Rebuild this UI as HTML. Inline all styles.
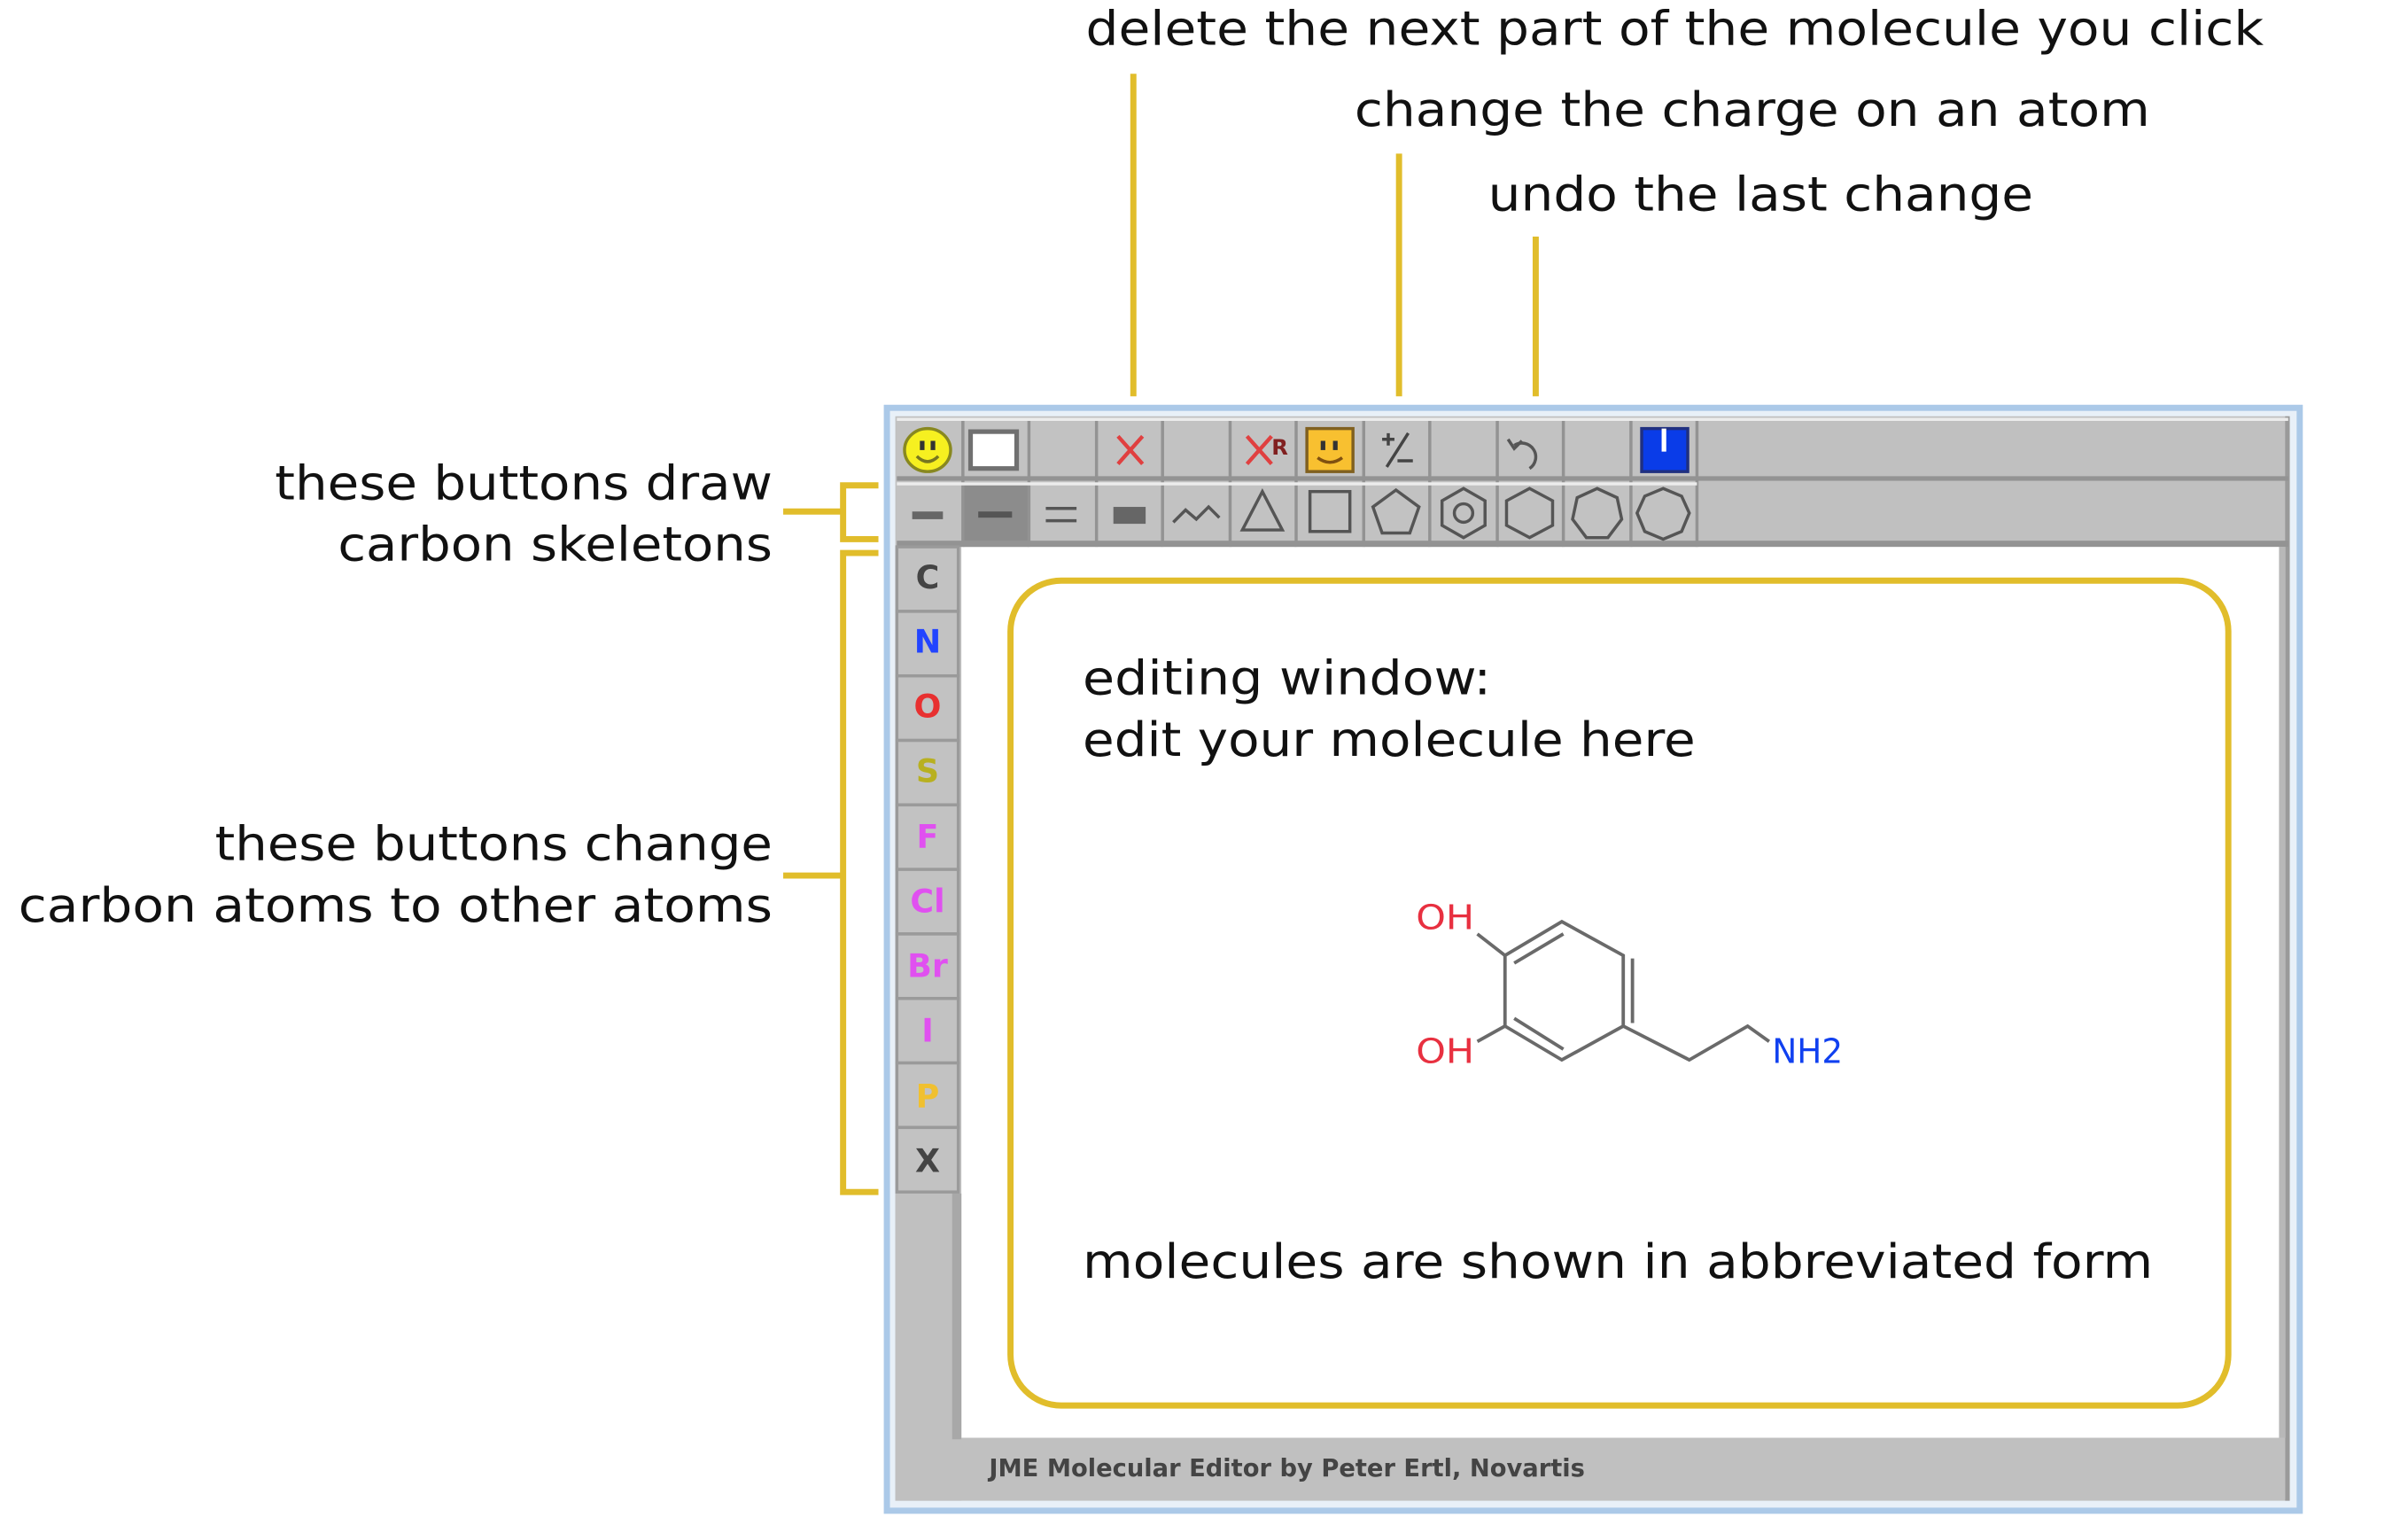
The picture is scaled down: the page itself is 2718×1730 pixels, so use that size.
<!DOCTYPE html>
<html><head><meta charset="utf-8"><style>
html,body{margin:0;padding:0;background:#fff;}
svg{display:block;}
text{font-family:"DejaVu Sans","Liberation Sans",sans-serif;}
</style></head><body>
<svg width="2718" height="1730" viewBox="0 0 1568 998" preserveAspectRatio="none" xmlns="http://www.w3.org/2000/svg">
<rect x="0" y="0" width="1568" height="998" fill="#fff"/>
<g font-size="31" fill="#111">
<text x="707" y="29" textLength="767" lengthAdjust="spacingAndGlyphs">delete the next part of the molecule you click</text>
<text x="882" y="82" textLength="518" lengthAdjust="spacingAndGlyphs">change the charge on an atom</text>
<text x="969" y="137" textLength="355" lengthAdjust="spacingAndGlyphs">undo the last change</text>
<text x="179" y="325" textLength="324" lengthAdjust="spacingAndGlyphs">these buttons draw</text>
<text x="220" y="365" textLength="283" lengthAdjust="spacingAndGlyphs">carbon skeletons</text>
<text x="140" y="560" textLength="363" lengthAdjust="spacingAndGlyphs">these buttons change</text>
<text x="12" y="600" textLength="491" lengthAdjust="spacingAndGlyphs">carbon atoms to other atoms</text>
</g>
<g stroke="#e1bd2b" stroke-width="4" fill="none">
<line x1="738" y1="48" x2="738" y2="258"/>
<line x1="911" y1="100" x2="911" y2="258"/>
<line x1="1000" y1="154" x2="1000" y2="258"/>
<line x1="510" y1="333" x2="549" y2="333"/>
<polyline points="572,316 549,316 549,351 572,351"/>
<line x1="510" y1="570" x2="549" y2="570"/>
<polyline points="572,360 549,360 549,776 572,776"/>
</g>
<rect x="577.5" y="265.5" width="920" height="718" fill="#e8f0f8" stroke="#abc9e8" stroke-width="4"/>
<rect x="583" y="271" width="908" height="706" fill="#c0c0c0"/>
<rect x="1488" y="271" width="3" height="706" fill="#9a9a9a"/>
<rect x="626" y="356" width="862" height="580" fill="#fff"/>
<rect x="1484" y="356" width="4" height="580" fill="#b8b8b8"/>
<rect x="626" y="936" width="862" height="40" fill="#c0c0c0"/>
<text x="644" y="961" font-size="16" font-weight="bold" fill="#444" textLength="388" lengthAdjust="spacingAndGlyphs" font-family="Liberation Sans, sans-serif">JME Molecular Editor by Peter Ertl, Novartis</text>
<rect x="583" y="777" width="43" height="200" fill="#c0c0c0"/>
<rect x="620" y="777" width="6" height="160" fill="#a8a8a8"/>
<g>
<g fill="#c2c2c2">
<rect x="584" y="272" width="42" height="42"/><rect x="627" y="272" width="43" height="42"/><rect x="671" y="272" width="42" height="42"/><rect x="714" y="272" width="43" height="42"/><rect x="758" y="272" width="42" height="42"/><rect x="801" y="272" width="43" height="42"/><rect x="845" y="272" width="42" height="42"/><rect x="888" y="272" width="43" height="42"/><rect x="932" y="272" width="42" height="42"/><rect x="975" y="272" width="43" height="42"/><rect x="1019" y="272" width="42" height="42"/><rect x="1062" y="272" width="43" height="42"/>
<rect x="584" y="314" width="42" height="42"/><rect x="671" y="314" width="42" height="42"/><rect x="714" y="314" width="43" height="42"/><rect x="758" y="314" width="42" height="42"/><rect x="801" y="314" width="43" height="42"/><rect x="845" y="314" width="42" height="42"/><rect x="888" y="314" width="43" height="42"/><rect x="932" y="314" width="42" height="42"/><rect x="975" y="314" width="43" height="42"/><rect x="1019" y="314" width="42" height="42"/><rect x="1062" y="314" width="43" height="42"/>
</g>
<rect x="627" y="314" width="43" height="42" fill="#8c8c8c"/>
<g fill="#939393">
<rect x="626" y="272" width="2" height="84"/><rect x="669" y="272" width="2" height="84"/><rect x="713" y="272" width="2" height="84"/><rect x="756" y="272" width="2" height="84"/><rect x="800" y="272" width="2" height="84"/><rect x="843" y="272" width="2" height="84"/><rect x="887" y="272" width="2" height="84"/><rect x="930" y="272" width="2" height="84"/><rect x="974" y="272" width="2" height="84"/><rect x="1017" y="272" width="2" height="84"/><rect x="1061" y="272" width="2" height="84"/><rect x="1104" y="272" width="2" height="84"/>
<rect x="584" y="310" width="906" height="3"/><rect x="584" y="352" width="906" height="4"/>
</g>
<g fill="#ececec"><rect x="584" y="314" width="521" height="2"/><rect x="584" y="272" width="906" height="2"/></g>
<g fill="#c2c2c2" stroke="#9a9a9a" stroke-width="2">
<rect x="584" y="356" width="40" height="42"/><rect x="584" y="398" width="40" height="42"/><rect x="584" y="440" width="40" height="42"/><rect x="584" y="482" width="40" height="42"/><rect x="584" y="524" width="40" height="42"/><rect x="584" y="566" width="40" height="42"/><rect x="584" y="608" width="40" height="42"/><rect x="584" y="650" width="40" height="42"/><rect x="584" y="692" width="40" height="42"/><rect x="584" y="734" width="40" height="42"/>
</g>
<g font-family="Liberation Sans, sans-serif" font-weight="bold" font-size="21" text-anchor="middle">
<text x="604" y="383" fill="#444">C</text>
<text x="604" y="425" fill="#2244ff">N</text>
<text x="604" y="467" fill="#e83030">O</text>
<text x="604" y="509" fill="#b8b020">S</text>
<text x="604" y="552" fill="#e050f0">F</text>
<text x="604" y="594" fill="#e050f0">Cl</text>
<text x="604" y="636" fill="#e050f0">Br</text>
<text x="604" y="678" fill="#e050f0">I</text>
<text x="604" y="721" fill="#f0c030">P</text>
<text x="604" y="763" fill="#444">X</text>
</g>
</g>
<ellipse cx="604" cy="293" rx="15" ry="14" fill="#f6f020" stroke="#888820" stroke-width="2"/>
<rect x="599" y="287" width="3" height="6" fill="#333"/><rect x="606" y="287" width="3" height="6" fill="#333"/>
<path d="M597 297 Q604 304 611 297" stroke="#777720" stroke-width="2" fill="none"/>
<rect x="632" y="281" width="30" height="24" fill="#fff" stroke="#707070" stroke-width="3"/>
<path d="M728 284 L744 302 M744 284 L728 302" stroke="#e04040" stroke-width="2.5"/>
<path d="M812 284 L828 302 M828 284 L812 302" stroke="#e04040" stroke-width="2.5"/>
<text x="828" y="296" font-size="14" font-weight="bold" fill="#802020" font-family="Liberation Sans, sans-serif">R</text>
<rect x="851" y="279" width="30" height="28" fill="#f8c030" stroke="#806020" stroke-width="2"/>
<rect x="860" y="287" width="3" height="6" fill="#333"/><rect x="868" y="287" width="3" height="6" fill="#333"/>
<path d="M858 298 Q866 304 874 298" stroke="#805010" stroke-width="2" fill="none"/>
<g stroke="#444" stroke-width="2" fill="none">
<path d="M900 286 L908 286 M904 282 L904 290"/>
<path d="M917 282 L903 304"/>
<path d="M910 300 L920 300"/>
</g>
<path d="M986 290 A9 9 0 1 1 996 305" stroke="#555" stroke-width="2" fill="none"/><path d="M982 286 L986 292 L991 287" stroke="#555" stroke-width="2" fill="none"/>
<rect x="1069" y="279" width="30" height="28" fill="#0a3ce8" stroke="#203080" stroke-width="2"/>
<rect x="1082" y="279" width="3" height="15" fill="#fff"/>
<g stroke="#555" stroke-width="2" fill="none">
<rect x="594" y="333" width="20" height="5" fill="#666" stroke="none"/>
<rect x="637" y="333" width="22" height="4" fill="#555" stroke="none"/>
<line x1="681" y1="331" x2="701" y2="331"/><line x1="681" y1="339" x2="701" y2="339"/>
<rect x="725" y="330" width="21" height="11" fill="#666" stroke="none"/>
<polyline points="764,340 772,332 779,338 787,330 794,337"/>
<polygon points="822,320 835,345 809,345"/>
<rect x="853" y="320" width="26" height="26"/>
<polygon points="909,319 924,330 918,347 900,347 894,330"/>
<polygon points="953,318 967,326 967,342 953,350 939,342 939,326"/><circle cx="953" cy="334" r="6"/>
<polygon points="996,318 1011,326 1011,342 996,350 981,342 981,326"/>
<polygon points="1040,318 1053,324 1056,338 1047,350 1033,350 1024,338 1027,324"/>
<polygon points="1083,318 1095,323 1100,334 1095,346 1083,351 1071,346 1066,334 1071,323"/>
</g>
<rect x="658" y="378" width="793" height="537" rx="33" ry="33" fill="none" stroke="#e1bd2b" stroke-width="4"/>
<g font-size="31" fill="#111">
<text x="705" y="452" textLength="266" lengthAdjust="spacingAndGlyphs">editing window:</text>
<text x="705" y="492" textLength="399" lengthAdjust="spacingAndGlyphs">edit your molecule here</text>
<text x="705" y="832" textLength="697" lengthAdjust="spacingAndGlyphs">molecules are shown in abbreviated form</text>
</g>
<g stroke="#6a6a6a" stroke-width="2.2" fill="none">
<polygon points="1017,600 1057,622 1057,668 1017,690 980,668 980,622"/>
<line x1="986" y1="627" x2="1018" y2="608"/>
<line x1="986" y1="663" x2="1018" y2="683"/>
<line x1="1063" y1="624" x2="1063" y2="666"/>
<line x1="962" y1="608" x2="980" y2="622"/>
<line x1="962" y1="678" x2="980" y2="668"/>
<polyline points="1057,668 1100,690 1138,668 1152,678"/>
</g>
<g font-family="Liberation Sans, sans-serif" font-size="22">
<text x="922" y="605" fill="#e83040" textLength="38" lengthAdjust="spacingAndGlyphs">OH</text>
<text x="922" y="692" fill="#e83040" textLength="38" lengthAdjust="spacingAndGlyphs">OH</text>
<text x="1154" y="692" fill="#1040f0" textLength="46" lengthAdjust="spacingAndGlyphs">NH2</text>
</g>
</svg>
</body></html>
